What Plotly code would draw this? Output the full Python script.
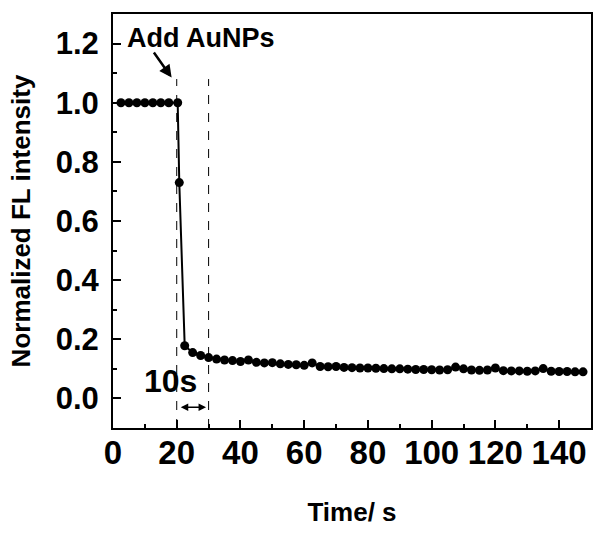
import plotly.graph_objects as go

# ---- data ----
time_s = [2.5, 5, 7.5, 10, 12.5, 15, 17.5, 20.3, 20.8,
          22.5, 25, 27.5, 30, 32.5, 35, 37.5, 40, 42.5, 45, 47.5, 50,
          52.5, 55, 57.5, 60, 62.5, 65, 67.5, 70, 72.5, 75, 77.5, 80,
          82.5, 85, 87.5, 90, 92.5, 95, 97.5, 100, 102.5, 105, 107.5, 110,
          112.5, 115, 117.5, 120, 122.5, 125, 127.5, 130, 132.5, 135, 137.5,
          140, 142.5, 145, 147.5]
fl_intensity = [1.0, 1.0, 1.0, 1.0, 1.0, 1.0, 1.0, 1.0, 0.73,
                0.178, 0.155, 0.145, 0.138, 0.133, 0.130, 0.128, 0.125, 0.130, 0.122, 0.120, 0.121,
                0.117, 0.115, 0.114, 0.112, 0.120, 0.108, 0.107, 0.108, 0.105, 0.104, 0.103, 0.103,
                0.102, 0.101, 0.100, 0.100, 0.099, 0.098, 0.098, 0.097, 0.096, 0.097, 0.106, 0.100,
                0.096, 0.095, 0.096, 0.103, 0.094, 0.093, 0.093, 0.092, 0.093, 0.101, 0.092,
                0.091, 0.091, 0.090, 0.090]
event_times = [20, 30]          # dashed guide lines
event_span = [-0.1, 1.08]
x_ticks = [0, 20, 40, 60, 80, 100, 120, 140]
y_ticks = [0.0, 0.2, 0.4, 0.6, 0.8, 1.0, 1.2]

FONT = "Arial, 'Liberation Sans', sans-serif"

fig = go.Figure()

for t in event_times:
    fig.add_trace(go.Scatter(x=[t, t], y=event_span, mode="lines",
                             line=dict(color="black", width=1, dash="dash"),
                             showlegend=False, hoverinfo="skip"))

fig.add_trace(go.Scatter(x=time_s, y=fl_intensity, mode="lines+markers",
                         line=dict(color="black", width=2),
                         marker=dict(color="black", size=9),
                         showlegend=False))

fig.add_annotation(x=27.7, y=1.22, text="<b>Add AuNPs</b>", showarrow=False,
                   font=dict(family=FONT, size=27, color="black"))
fig.add_annotation(x=18.4, y=1.085, ax=12.5, ay=1.175, axref="x", ayref="y",
                   text="", showarrow=True, arrowhead=2, arrowsize=1,
                   arrowwidth=2.5, arrowcolor="black")
fig.add_annotation(x=18.1, y=0.058, text="<b>10s</b>", showarrow=False,
                   font=dict(family=FONT, size=32, color="black"))
fig.add_annotation(x=29.2, y=-0.03, ax=20.8, ay=-0.03, axref="x", ayref="y",
                   text="", showarrow=True, arrowhead=2, arrowside="end+start",
                   arrowsize=1, arrowwidth=1.5, arrowcolor="black")

fig.update_layout(
    width=595, height=533,
    margin=dict(l=113, r=2, t=14, b=105),
    plot_bgcolor="white", paper_bgcolor="white",
    font=dict(family=FONT, color="black"),
    xaxis=dict(range=[0, 150], tickvals=x_ticks, ticks="inside", ticklen=8,
               tickwidth=2, tickcolor="black",
               minor=dict(dtick=10, ticks="inside", ticklen=4, tickwidth=2, tickcolor="black"),
               showline=True, linewidth=2, linecolor="black", mirror=True,
               showgrid=False, zeroline=False,
               tickfont=dict(family=FONT, size=33, color="black", weight="bold"),
               ticklabelstandoff=-6,
               title=dict(text="<b>Time/ s</b>", standoff=33,
                          font=dict(family=FONT, size=26, color="black"))),
    yaxis=dict(range=[-0.1, 1.3], tickvals=y_ticks, tickformat=".1f",
               ticks="inside", ticklen=8, tickwidth=2, tickcolor="black",
               minor=dict(dtick=0.1, tick0=0, ticks="inside", ticklen=4, tickwidth=2, tickcolor="black"),
               showline=True, linewidth=2, linecolor="black", mirror=True,
               showgrid=False, zeroline=False,
               tickfont=dict(family=FONT, size=31, color="black", weight="bold"),
               ticklabelstandoff=6,
               title=dict(text="<b>Normalized FL intensity</b>", standoff=18,
                          font=dict(family=FONT, size=26, color="black"))),
)

# remove the browser's default 8px body margin so the figure sits at the page origin
fig.write_html("out.html", config={"displayModeBar": False},
               post_script="document.body.style.margin='0';")
